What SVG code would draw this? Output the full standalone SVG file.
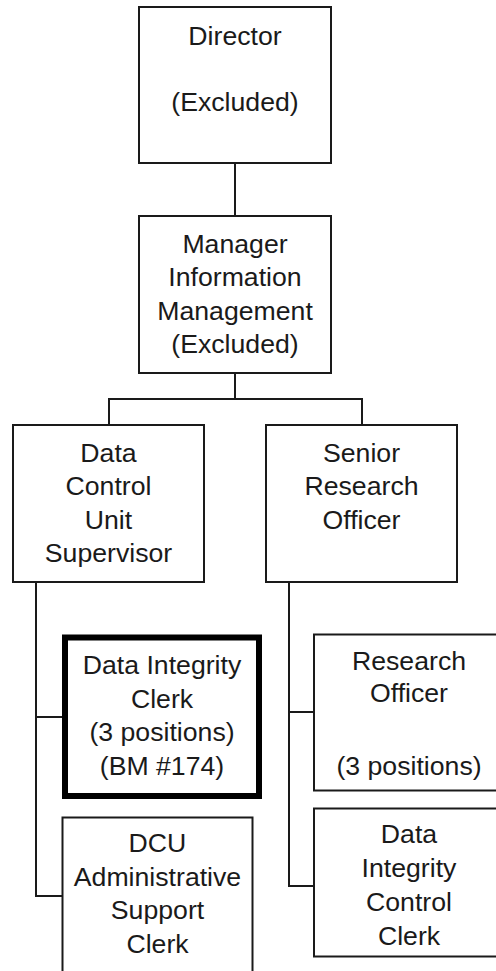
<svg xmlns="http://www.w3.org/2000/svg" width="496" height="971" viewBox="0 0 496 971">
<style>
.box{fill:#fff;stroke:#1a1a1a;stroke-width:2}
.bold{fill:#fff;stroke:#000;stroke-width:6}
.ln{fill:none;stroke:#1a1a1a;stroke-width:2}
text{font-family:"Liberation Sans",Arial,sans-serif;font-size:26.67px;fill:#1a1a1a;text-anchor:middle}
</style>
<rect width="496" height="971" fill="#fff"/>
<g id="connectors">
<path class="ln" d="M235,163 V216"/>
<path class="ln" d="M235,373 V399 M109,399 H362 M109,398 V425 M362,398 V425"/>
<path class="ln" d="M36,582 V896 M35,717 H62 M35,896 H62"/>
<path class="ln" d="M289,582 V886 M288,712 H314 M288,886 H314"/>
</g>
<g id="director">
<rect class="box" x="139" y="7" width="192" height="156"/>
<text x="235" y="44.5">Director</text>
<text x="235" y="111">(Excluded)</text>
</g>
<g id="manager">
<rect class="box" x="139" y="216" width="192" height="157"/>
<text x="235" y="252.5">Manager</text>
<text x="235" y="286">Information</text>
<text x="235" y="319.5">Management</text>
<text x="235" y="353">(Excluded)</text>
</g>
<g id="dcu-supervisor">
<rect class="box" x="13" y="425" width="191" height="157"/>
<text x="108.5" y="461.5">Data</text>
<text x="108.5" y="495">Control</text>
<text x="108.5" y="528.5">Unit</text>
<text x="108.5" y="562">Supervisor</text>
</g>
<g id="senior-research-officer">
<rect class="box" x="266" y="425" width="191" height="157"/>
<text x="361.5" y="461.5">Senior</text>
<text x="361.5" y="495">Research</text>
<text x="361.5" y="528.5">Officer</text>
</g>
<g id="data-integrity-clerk">
<rect class="bold" x="65" y="637.5" width="194" height="158.5"/>
<text x="162" y="674">Data Integrity</text>
<text x="162" y="707.5">Clerk</text>
<text x="162" y="741">(3 positions)</text>
<text x="162" y="774.5">(BM #174)</text>
</g>
<g id="dcu-admin-support-clerk">
<rect class="box" x="62.5" y="817.5" width="190" height="170"/>
<text x="157.5" y="851.5">DCU</text>
<text x="157.5" y="885.5">Administrative</text>
<text x="157.5" y="919">Support</text>
<text x="157.5" y="952.5">Clerk</text>
</g>
<g id="research-officer">
<rect class="box" x="314" y="634.5" width="190" height="156"/>
<text x="409" y="669.5">Research</text>
<text x="409" y="702">Officer</text>
<text x="409" y="775">(3 positions)</text>
</g>
<g id="data-integrity-control-clerk">
<rect class="box" x="314" y="808.5" width="190" height="148"/>
<text x="409" y="843">Data</text>
<text x="409" y="877">Integrity</text>
<text x="409" y="911">Control</text>
<text x="409" y="945">Clerk</text>
</g>
</svg>
